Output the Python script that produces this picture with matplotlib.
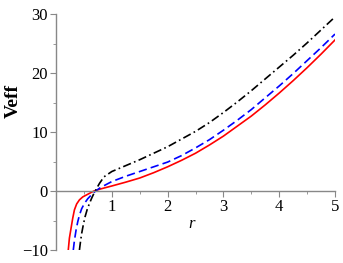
import numpy as np
import matplotlib
matplotlib.use("Agg")
import matplotlib.pyplot as plt
from matplotlib.ticker import MultipleLocator

# values
r_red = [0.22, 0.24, 0.27, 0.30, 0.33, 0.37, 0.42, 0.48, 0.54, 0.61, 0.68, 0.8, 1.0, 1.25,
         1.5, 1.75, 2.0, 2.25, 2.5, 2.75, 3.0, 3.25, 3.5, 3.75, 4.0, 4.25, 4.5, 4.75, 5.0]
v_red = [-10.0, -8.0, -6.3, -4.6, -3.2, -2.2, -1.5, -1.0, -0.7, -0.35, 0.0, 0.35, 0.85, 1.5,
         2.2, 3.1, 4.1, 5.2, 6.4, 7.8, 9.3, 11.0, 12.7, 14.6, 16.6, 18.7, 20.9, 23.2, 25.6]

r_blue = [0.31, 0.33, 0.36, 0.39, 0.42, 0.46, 0.51, 0.57, 0.63, 0.71, 0.8, 1.0, 1.25,
          1.5, 1.75, 2.0, 2.25, 2.5, 2.75, 3.0, 3.25, 3.5, 3.75, 4.0, 4.25, 4.5, 4.75, 5.0]
v_blue = [-10.0, -8.4, -6.6, -5.2, -4.1, -3.0, -2.1, -1.3, -0.7, 0.0, 0.6, 1.6, 2.5,
          3.3, 4.1, 4.9, 6.0, 7.3, 8.7, 10.3, 12.0, 13.8, 15.8, 17.8, 19.9, 22.1, 24.3, 26.6]

r_black = [0.42, 0.44, 0.46, 0.49, 0.52, 0.56, 0.60, 0.64, 0.68, 0.72, 0.78, 0.86, 1.0, 1.25,
           1.5, 1.75, 2.0, 2.25, 2.5, 2.75, 3.0, 3.25, 3.5, 3.75, 4.0, 4.25, 4.5, 4.75, 5.0]
v_black = [-10.0, -8.5, -7.2, -5.7, -4.4, -3.1, -2.1, -1.2, -0.4, 0.3, 1.3, 2.4, 3.3, 4.3,
           5.3, 6.4, 7.5, 8.8, 10.1, 11.6, 13.3, 15.1, 17.0, 19.0, 21.0, 23.0, 25.1, 27.3, 29.5]

x_ticks = [1, 2, 3, 4, 5]
y_ticks = [-10, 0, 10, 20, 30]
y_labels = ['\u221210', '0', '10', '20', '30']

plt.rcParams['font.family'] = ['Liberation Serif', 'DejaVu Serif']

fig = plt.figure(figsize=(3.43, 2.63), dpi=100)
ax = fig.add_axes([56/343, 13/263, 279/343, 236/263])

ax.plot(r_red, v_red, color='red', lw=1.2, ls='-')
ax.plot(r_blue, v_blue, color='blue', lw=1.2, ls=(0, (5, 2.5)))
ax.plot(r_black, v_black, color='black', lw=1.2, ls=(0, (5, 2, 1, 2)))

ax.set_xlim(0, 5)
ax.set_ylim(-10, 30)

ax.spines['top'].set_visible(False)
ax.spines['right'].set_visible(False)
ax.spines['bottom'].set_position(('data', 0))
for s in ('left', 'bottom'):
    ax.spines[s].set_color('#888888')
    ax.spines[s].set_linewidth(1.0)

ax.set_xticks(x_ticks)
ax.set_yticks(y_ticks, y_labels)
ax.xaxis.set_minor_locator(MultipleLocator(0.5))
ax.yaxis.set_minor_locator(MultipleLocator(5))
ax.tick_params(which='major', length=4, color='#888888', labelsize=12, pad=2)
ax.tick_params(which='minor', length=2, color='#888888')

ax.set_xlabel('r', fontstyle='italic', fontsize=12)
ax.xaxis.set_label_coords(0.485, 0.145)
fig.text(13/343, 1 - 101/263, 'Veff', rotation=90, ha='center', va='center',
         fontweight='bold', fontsize=14)

fig.savefig('out.png', dpi=100)
